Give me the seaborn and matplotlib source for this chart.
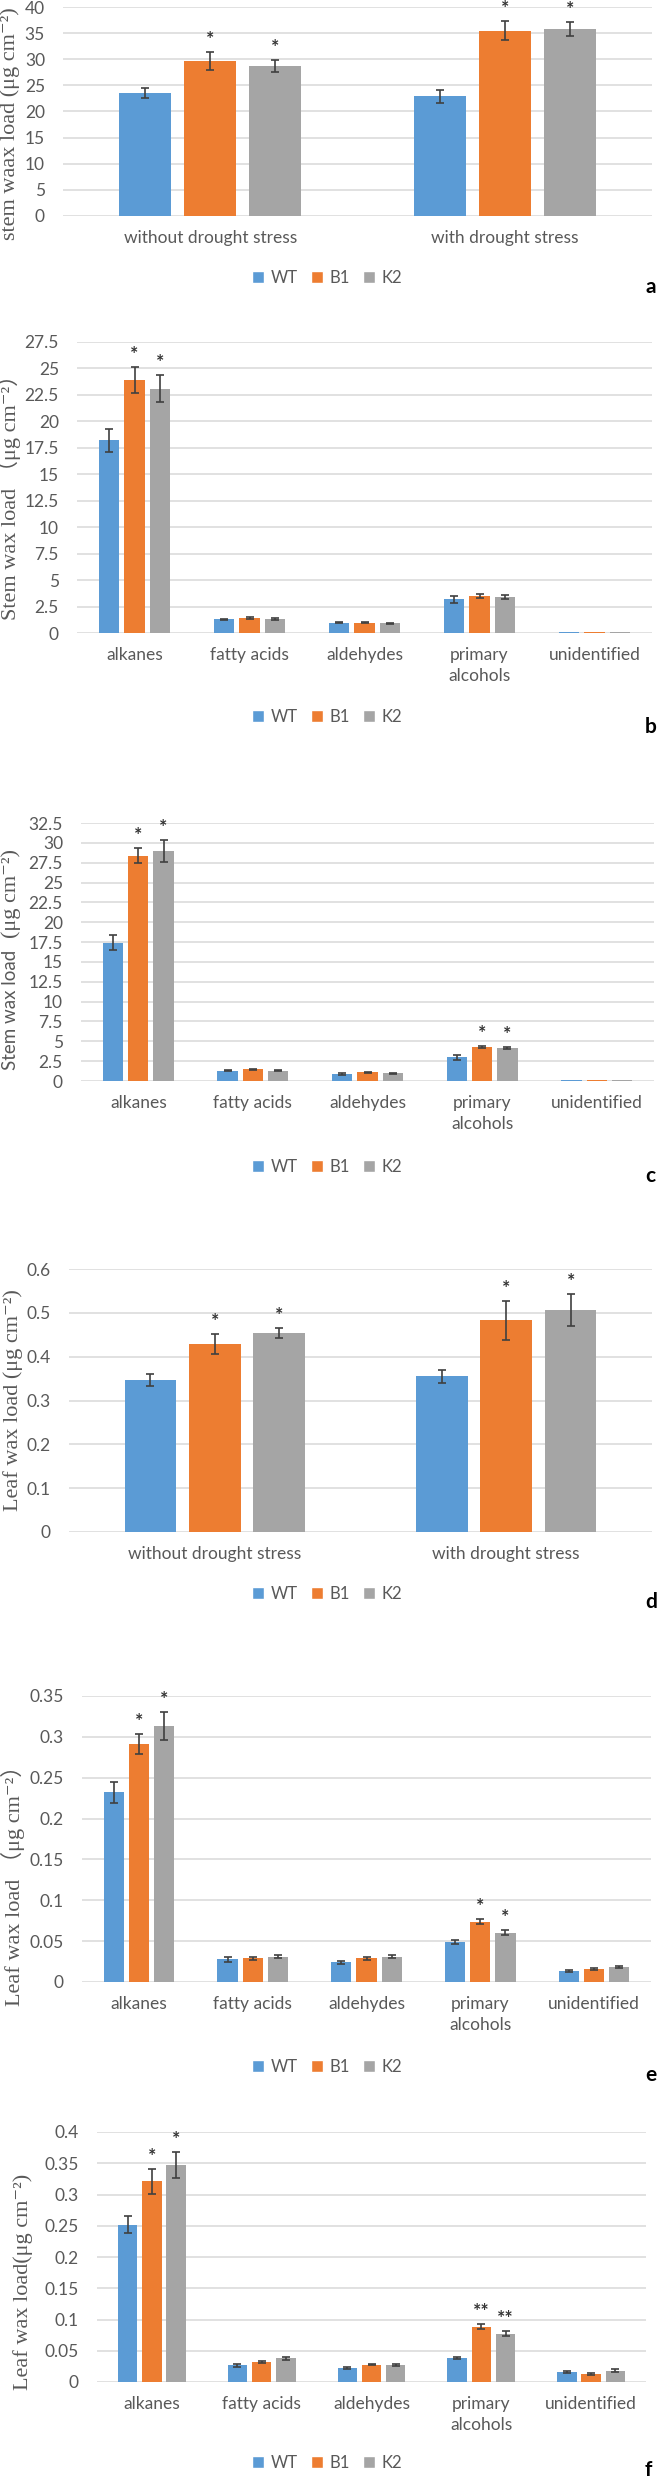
import numpy as np
import pandas as pd
import seaborn as sns
import matplotlib.pyplot as plt
from matplotlib.patches import Patch
from matplotlib.ticker import MultipleLocator, FuncFormatter

sns.set_theme(style='white')
plt.rcParams['font.family'] = ['Lato', 'DejaVu Sans']

# DATA
lines = ['WT', 'B1', 'K2']
colors = ['#5B9BD5', '#ED7D31', '#A5A5A5']
stress = ['without drought stress', 'with drought stress']
classes = ['alkanes', 'fatty acids', 'aldehydes', 'primary\nalcohols', 'unidentified']

# a - stem wax, drought
a_wt = [23.5, 22.9]
a_b1 = [29.7, 35.5]
a_k2 = [28.7, 35.8]
a_wt_err = [0.95, 1.2]
a_b1_err = [1.7, 1.85]
a_k2_err = [1.1, 1.3]
a_b1_sig = ['*', '*']
a_k2_sig = ['*', '*']

# b - stem wax classes (B1)
b_wt = [18.2, 1.29, 0.95, 3.18, 0.1]
b_b1 = [23.9, 1.42, 0.97, 3.5, 0.12]
b_k2 = [23.1, 1.32, 0.93, 3.4, 0.1]
b_wt_err = [1.1, 0.08, 0.05, 0.3, 0]
b_b1_err = [1.2, 0.1, 0.06, 0.15, 0]
b_k2_err = [1.3, 0.08, 0.06, 0.15, 0]
b_b1_sig = ['*', '', '', '', '']
b_k2_sig = ['*', '', '', '', '']

# c - stem wax classes
c_wt = [17.4, 1.3, 0.88, 2.99, 0.1]
c_b1 = [28.4, 1.47, 1.1, 4.25, 0.1]
c_k2 = [29.0, 1.3, 0.97, 4.12, 0.1]
c_wt_err = [0.95, 0.1, 0.08, 0.3, 0]
c_b1_err = [0.9, 0.1, 0.08, 0.15, 0]
c_k2_err = [1.35, 0.1, 0.08, 0.15, 0]
c_b1_sig = ['*', '', '', '*', '']
c_k2_sig = ['*', '', '', '*', '']

# d - leaf wax, drought
d_wt = [0.347, 0.355]
d_b1 = [0.429, 0.483]
d_k2 = [0.454, 0.507]
d_wt_err = [0.014, 0.014]
d_b1_err = [0.023, 0.044]
d_k2_err = [0.012, 0.036]
d_b1_sig = ['*', '*']
d_k2_sig = ['*', '*']

# e - leaf wax classes
e_wt = [0.232, 0.028, 0.024, 0.049, 0.0135]
e_b1 = [0.291, 0.029, 0.029, 0.074, 0.016]
e_k2 = [0.313, 0.031, 0.031, 0.0605, 0.018]
e_wt_err = [0.013, 0.003, 0.0015, 0.002, 0.001]
e_b1_err = [0.012, 0.0015, 0.002, 0.003, 0.001]
e_k2_err = [0.017, 0.0015, 0.0015, 0.003, 0.001]
e_b1_sig = ['*', '', '', '*', '']
e_k2_sig = ['*', '', '', '*', '']

# f - leaf wax classes
f_wt = [0.252, 0.0267, 0.0225, 0.038, 0.016]
f_b1 = [0.3215, 0.032, 0.028, 0.0887, 0.0128]
f_k2 = [0.347, 0.038, 0.027, 0.0775, 0.0183]
f_wt_err = [0.014, 0.002, 0.0013, 0.0015, 0.0015]
f_b1_err = [0.02, 0.002, 0.0013, 0.004, 0.002]
f_k2_err = [0.021, 0.002, 0.002, 0.004, 0.002]
f_b1_sig = ['*', '', '', '**', '']
f_k2_sig = ['*', '', '', '**', '']

W, H = 660, 2481
fig = plt.figure(figsize=(W / 100, H / 100), dpi=100)
serif = ['Liberation Serif', 'DejaVu Serif', 'Noto Sans CJK SC']
TICK = '#595959'


def panel(box, cats, vals, errs, sigs, ymax, step, legend_y, letter, letter_y):
    left, right, top, bottom = box
    ax = fig.add_axes([left / W, 1 - bottom / H, (right - left) / W, (bottom - top) / H])
    df = pd.DataFrame({
        'cat': cats * 3,
        'line': [l for l in lines for _ in cats],
        'val': [v for s in vals for v in s],
    })
    sns.barplot(data=df, x='cat', y='val', hue='line', palette=colors, saturation=1,
                width=0.663, gap=0.2, errorbar=None, legend=False, linewidth=0, ax=ax)
    # keep the bar containers before errorbar() adds its own
    bar_groups = list(ax.containers)
    for i, cont in enumerate(bar_groups):
        for j, bar in enumerate(cont):
            x = bar.get_x() + bar.get_width() / 2
            h = bar.get_height()
            e = errs[i][j]
            if e > 0:
                ax.errorbar(x, h, yerr=e, color='#404040', lw=1.2, capsize=3, capthick=1.2)
            s = sigs[i][j]
            if s:
                ax.annotate(s, (x, h + e), xytext=(0, 9), textcoords='offset points',
                            ha='center', va='center', fontsize=14, fontweight='bold',
                            color='#333333')
    ax.set_ylim(0, ymax)
    ax.set_xlim(-0.5, len(cats) - 0.5)
    ax.yaxis.set_major_locator(MultipleLocator(step))
    ax.yaxis.set_major_formatter(FuncFormatter(lambda v, p: f'{round(v, 4):g}'))
    ax.grid(axis='y', color='#d9d9d9', lw=1.1)
    ax.set_axisbelow(True)
    for sp in ax.spines.values():
        sp.set_visible(False)
    ax.tick_params(axis='y', length=0, pad=13, labelsize=12.5, labelcolor=TICK)
    ax.tick_params(axis='x', length=0, pad=10, labelsize=12.5, labelcolor=TICK)
    for t in ax.get_xticklabels():
        t.set_linespacing(1.4)
    ax.set_xlabel('')
    ax.set_ylabel('')
    handles = [Patch(facecolor=c) for c in colors]
    fig.legend(handles, lines, loc='center', bbox_to_anchor=(327 / W, 1 - legend_y / H),
               ncol=3, frameon=False, handlelength=0.7, handleheight=0.7,
               handletextpad=0.4, columnspacing=0.8, fontsize=12, labelcolor=TICK)
    fig.text(645 / W, 1 - letter_y / H, letter, fontsize=15, fontweight='bold',
             ha='left', va='center', color='black')
    return ax


def ylab(x, y, text, family=serif, size=16):
    fig.text(x / W, 1 - y / H, text, rotation=90, ha='center', va='center',
             fontsize=size, family=family, color=TICK)


panel((63, 652, 7, 216), stress, [a_wt, a_b1, a_k2], [a_wt_err, a_b1_err, a_k2_err],
      [['', ''], a_b1_sig, a_k2_sig], 40, 5, 278, 'a', 287)
ylab(10, 124, 'stem waax load (μg cm⁻²)')

panel((77, 652, 342, 633), classes, [b_wt, b_b1, b_k2], [b_wt_err, b_b1_err, b_k2_err],
      [[''] * 5, b_b1_sig, b_k2_sig], 27.5, 2.5, 717, 'b', 727)
ylab(9, 492, 'Stem wax load （μg cm⁻²）')

panel((81, 654, 823, 1081), classes, [c_wt, c_b1, c_k2], [c_wt_err, c_b1_err, c_k2_err],
      [[''] * 5, c_b1_sig, c_k2_sig], 32.5, 2.5, 1167, 'c', 1176)
ylab(11, 1010, 'Stem wax load', family=['Lato', 'DejaVu Sans'], size=13.5)
ylab(11, 893, '(μg cm⁻²)')

panel((69, 652, 1269, 1532), stress, [d_wt, d_b1, d_k2], [d_wt_err, d_b1_err, d_k2_err],
      [['', ''], d_b1_sig, d_k2_sig], 0.6, 0.1, 1594, 'd', 1602)
ylab(13, 1400, 'Leaf wax load (μg cm⁻²)')

panel((82, 651, 1696, 1982), classes, [e_wt, e_b1, e_k2], [e_wt_err, e_b1_err, e_k2_err],
      [[''] * 5, e_b1_sig, e_k2_sig], 0.35, 0.05, 2067, 'e', 2075)
ylab(13, 1880, 'Leaf wax load （μg cm⁻²）')

panel((97, 646, 2132, 2382), classes, [f_wt, f_b1, f_k2], [f_wt_err, f_b1_err, f_k2_err],
      [[''] * 5, f_b1_sig, f_k2_sig], 0.4, 0.05, 2463, 'f', 2470)
ylab(23, 2282, 'Leaf wax load(μg cm⁻²)')

fig.savefig('out.png', dpi=100)
